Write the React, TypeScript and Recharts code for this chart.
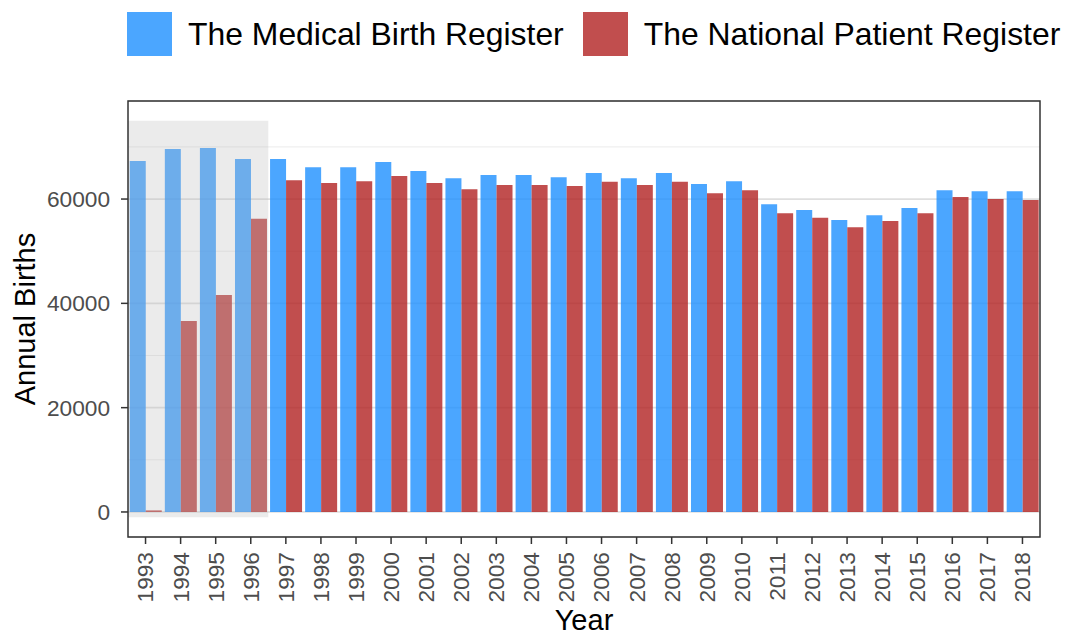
import React from 'react';
import { BarChart, Bar, XAxis, YAxis, CartesianGrid, ReferenceArea, Legend } from 'recharts';

const years = ['1993','1994','1995','1996','1997','1998','1999','2000','2001','2002','2003','2004','2005','2006','2007','2008','2009','2010','2011','2012','2013','2014','2015','2016','2017','2018'];
const medicalBirth = [67300, 69600, 69800, 67700, 67700, 66100, 66100, 67100, 65400, 64000, 64600, 64600, 64200, 65000, 64000, 65000, 62900, 63400, 59000, 57900, 56000, 56900, 58300, 61700, 61500, 61500];
const nationalPatient = [300, 36600, 41600, 56200, 63600, 63100, 63400, 64400, 63100, 61900, 62700, 62700, 62500, 63300, 62700, 63300, 61100, 61700, 57300, 56400, 54600, 55800, 57300, 60400, 60000, 59800];
const majorTicks = [0, 20000, 40000, 60000];
const minorTicks = [10000, 30000, 50000, 70000];
const yDomain = [-4800, 78800];
const shadeY = [-1000, 75000];
const shadeX = [0, 4];
const bandDomain = [0, 26];

const data = years.map((year, i) => ({ year, idx: i + 0.5, mbr: medicalBirth[i], npr: nationalPatient[i] }));

const FONT = '"Liberation Sans", Arial, Helvetica, sans-serif';

const XTick = (props: any) => {
  const { x, y, payload } = props;
  const ty = y + 8;
  return (
    <text x={x} y={ty} dy="0.35em" transform={`rotate(-90 ${x} ${ty})`} textAnchor="end" fill="#4d4d4d" fontSize={22.7} fontFamily={FONT}>
      {payload.value}
    </text>
  );
};

const LegendContent = (props: any) => {
  const items = props.payload || [];
  return (
    <div style={{ display: 'flex', flexDirection: 'row', paddingLeft: 127, paddingTop: 12, gap: 19, fontFamily: FONT }}>
      {items.map((it: any) => (
        <div key={it.value} style={{ display: 'flex', alignItems: 'center' }}>
          <div style={{ width: 45, height: 44, background: it.color, opacity: 0.8 }} />
          <span style={{ marginLeft: 16, fontSize: 31.9, color: '#000', lineHeight: '44px', whiteSpace: 'nowrap' }}>{it.value}</span>
        </div>
      ))}
    </div>
  );
};

export default function App() {
  return (
    <div style={{ position: 'absolute', left: 0, top: 0, background: '#fff' }}>
      <BarChart
        width={1068}
        height={635}
        data={data}
        margin={{ top: 101, right: 28, bottom: 0, left: 0 }}
        barCategoryGap="5%"
        barGap={0}
        style={{ fontFamily: FONT }}
      >
        <CartesianGrid vertical={false} stroke="#ebebeb" strokeWidth={1} yAxisId="minor" />
        <CartesianGrid vertical={false} stroke="#dfdfdf" strokeWidth={1.7} />
        <XAxis
          dataKey="year"
          interval={0}
          height={98}
          tickSize={7}
          tickMargin={0}
          axisLine={false}
          tickLine={{ stroke: '#333333', strokeWidth: 1.5 }}
          tick={<XTick />}
          label={{
            content: (p: any) => {
              const vb = p.viewBox;
              return (
                <text x={vb.x + vb.width / 2} y={vb.y + 93} textAnchor="middle" fontSize={29} fill="#000" fontFamily={FONT}>
                  Year
                </text>
              );
            },
          }}
        />
        <XAxis xAxisId="num" dataKey="idx" type="number" domain={bandDomain} ticks={bandDomain} allowDataOverflow hide />
        <YAxis
          width={128}
          domain={yDomain}
          ticks={majorTicks}
          allowDataOverflow
          tickSize={7}
          tickMargin={11}
          axisLine={false}
          tickLine={{ stroke: '#333333', strokeWidth: 1.5 }}
          tick={{ fill: '#4d4d4d', fontSize: 22.7, fontFamily: FONT }}
          label={{
            content: (p: any) => {
              const vb = p.viewBox;
              const cx = vb.x + 35;
              const cy = vb.y + vb.height / 2;
              return (
                <text x={cx} y={cy} transform={`rotate(-90 ${cx} ${cy})`} textAnchor="middle" fontSize={29} fill="#000" fontFamily={FONT}>
                  Annual Births
                </text>
              );
            },
          }}
        />
        <YAxis yAxisId="minor" domain={yDomain} ticks={minorTicks} allowDataOverflow hide />
        <Legend
          layout="horizontal"
          verticalAlign="middle"
          align="center"
          wrapperStyle={{ top: 0, left: 0, width: 1068, height: 70 }}
          content={<LegendContent />}
        />
        <Bar dataKey="mbr" name="The Medical Birth Register" fill="#1e90ff" fillOpacity={0.8} isAnimationActive={false} />
        <Bar dataKey="npr" name="The National Patient Register" fill="#b22222" fillOpacity={0.8} isAnimationActive={false} />
        <ReferenceArea
          xAxisId="num"
          x1={shadeX[0]}
          x2={shadeX[1]}
          y1={shadeY[0]}
          y2={shadeY[1]}
          fill="#bebebe"
          fillOpacity={0.3}
          stroke="none"
          ifOverflow="visible"
          zIndex={650}
        />
        <ReferenceArea
          xAxisId="num"
          x1={bandDomain[0]}
          x2={bandDomain[1]}
          y1={yDomain[0]}
          y2={yDomain[1]}
          fill="none"
          stroke="#333333"
          strokeWidth={1.5}
          ifOverflow="visible"
          zIndex={700}
        />
      </BarChart>
    </div>
  );
}
